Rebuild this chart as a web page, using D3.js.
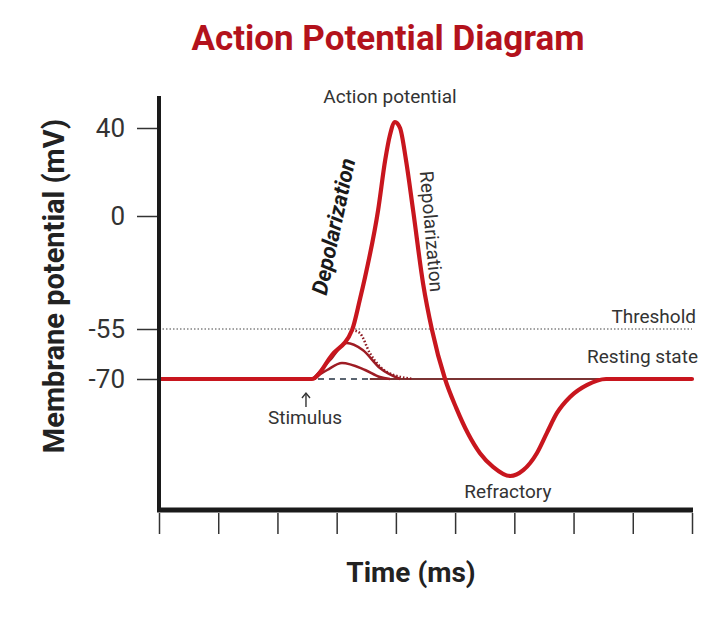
<!DOCTYPE html>
<html>
<head>
<meta charset="utf-8">
<script src="https://cdn.jsdelivr.net/npm/d3@7"></script>
<style>
  body { margin: 0; background: #fff; }
  text { font-family: Roboto, "Noto Sans", sans-serif; }
</style>
</head>
<body>
<div id="chart"></div>
<script>
// tick values
var yTicks = [40, 0, -55, -70];
var xTicks = [0, 1, 2, 3, 4, 5, 6, 7, 8, 9];

// main action potential trace (time in ms, voltage in mV)
var apTime = [0, 2.58, 2.92, 3.26, 3.39, 3.48, 3.70, 3.82, 3.90, 3.985, 4.07, 4.17, 4.29, 4.46, 4.61, 4.83,
              5.02, 5.22, 5.42, 5.64, 5.93, 6.15, 6.38, 6.55, 6.72, 6.94, 7.23, 7.55, 9];
var apVolt = [-70, -70, -62.8, -55.3, -40.9, -29.7, 2.7, 25.5, 36.8, 42.7, 40, 25.5, 2.7, -33, -55.3, -70,
              -76.0, -81.3, -85.3, -88.1, -90, -88.8, -85.3, -81.1, -77.0, -73.7, -71.2, -70, -70];

// sub-threshold responses
var smallTime = [2.60, 2.84, 3.09, 3.48, 3.73, 3.90];
var smallVolt = [-70, -67.3, -65.2, -67.3, -69.4, -70];
var medTime = [2.60, 2.89, 3.17, 3.44, 3.73, 4.07];
var medVolt = [-70, -64.3, -59.2, -61.3, -66.7, -70];
// failed spike at threshold (dotted)
var failTime = [3.26, 3.39, 3.56, 3.85, 4.29];
var failVolt = [-55.3, -56.2, -62.2, -67.9, -70];

var threshold = -55;
var resting = -70;
var stimTime = 2.6;
var dashEnd = 3.56;

var width = 720, height = 618;

var svg = d3.select("#chart").append("svg")
    .attr("width", width)
    .attr("height", height);

var x = d3.scaleLinear().domain([0, 9]).range([159, 692]);
// diagram-style (non uniform) voltage axis
var y = d3.scaleLinear().domain([40, 0, -55, -70, -90]).range([128, 216, 329, 379, 476]);

var line = d3.line()
    .x(d => x(d[0]))
    .y(d => y(d[1]))
    .curve(d3.curveMonotoneX);

function pairs(t, v) { return t.map((d, i) => [d, v[i]]); }

// title
svg.append("text")
    .attr("x", 388).attr("y", 50)
    .attr("text-anchor", "middle")
    .attr("fill", "#b3121c")
    .attr("font-size", 35)
    .attr("font-weight", 700)
    .text("Action Potential Diagram");

// threshold line
svg.append("line")
    .attr("x1", x(0)).attr("x2", x(9))
    .attr("y1", y(threshold)).attr("y2", y(threshold))
    .attr("stroke", "#444").attr("stroke-width", 1.2)
    .attr("stroke-dasharray", "1.5,2");

// resting line
svg.append("line")
    .attr("x1", x(0)).attr("x2", x(9))
    .attr("y1", y(resting)).attr("y2", y(resting))
    .attr("stroke", "#7a3434").attr("stroke-width", 2);

// dashed baseline under the bumps
svg.append("line")
    .attr("x1", x(stimTime) + 3).attr("x2", x(dashEnd))
    .attr("y1", y(resting)).attr("y2", y(resting))
    .attr("stroke", "#fff").attr("stroke-width", 3);
svg.append("line")
    .attr("x1", x(stimTime) + 5).attr("x2", x(dashEnd))
    .attr("y1", y(resting)).attr("y2", y(resting))
    .attr("stroke", "#5a6470").attr("stroke-width", 2)
    .attr("stroke-dasharray", "6,5");

// sub-threshold curves
svg.append("path").datum(pairs(smallTime, smallVolt))
    .attr("d", line).attr("fill", "none")
    .attr("stroke", "#9e1c24").attr("stroke-width", 2.5);
svg.append("path").datum(pairs(medTime, medVolt))
    .attr("d", line).attr("fill", "none")
    .attr("stroke", "#9e1c24").attr("stroke-width", 2.5);
svg.append("path").datum(pairs(failTime, failVolt))
    .attr("d", line).attr("fill", "none")
    .attr("stroke", "#8e1a22").attr("stroke-width", 2.5)
    .attr("stroke-dasharray", "1.5,2");

// main trace
svg.append("path").datum(pairs(apTime, apVolt))
    .attr("d", line).attr("fill", "none")
    .attr("stroke", "#c8161e").attr("stroke-width", 4.2)
    .attr("stroke-linejoin", "round").attr("stroke-linecap", "round");

// axes
var yAxis = svg.append("g")
    .attr("transform", "translate(159,0)")
    .call(d3.axisLeft(y).tickValues(yTicks).tickSize(22).tickPadding(12)
        .tickSizeOuter(0).tickFormat(d => String(d)));
yAxis.select(".domain").remove();
yAxis.selectAll(".tick line").attr("stroke", "#333").attr("stroke-width", 1.5);
yAxis.selectAll(".tick text")
    .attr("font-size", 26).attr("fill", "#333")
    .attr("font-family", "Roboto, sans-serif");

var xAxis = svg.append("g")
    .attr("transform", "translate(0,513)")
    .call(d3.axisBottom(x).tickValues(xTicks).tickSize(21).tickFormat("").tickSizeOuter(0));
xAxis.select(".domain").remove();
xAxis.selectAll(".tick line").attr("stroke", "#333").attr("stroke-width", 1.5);

svg.append("line")
    .attr("x1", 159).attr("x2", 159).attr("y1", 96).attr("y2", 512)
    .attr("stroke", "#1a1a1a").attr("stroke-width", 4);
svg.append("line")
    .attr("x1", 157).attr("x2", 693).attr("y1", 510).attr("y2", 510)
    .attr("stroke", "#1a1a1a").attr("stroke-width", 5);

// axis titles
svg.append("text")
    .attr("transform", "translate(64,286) rotate(-90)")
    .attr("text-anchor", "middle")
    .attr("font-size", 29).attr("font-weight", 700).attr("fill", "#222")
    .text("Membrane potential (mV)");
svg.append("text")
    .attr("x", 411).attr("y", 582)
    .attr("text-anchor", "middle")
    .attr("font-size", 28).attr("font-weight", 700).attr("fill", "#222")
    .text("Time (ms)");

// stimulus arrow
var ax = x(stimTime) - 7;
svg.append("line")
    .attr("x1", ax).attr("x2", ax).attr("y1", 407).attr("y2", 394)
    .attr("stroke", "#333").attr("stroke-width", 1.4);
svg.append("path")
    .attr("d", `M${ax - 4},${398} L${ax},${393} L${ax + 4},${398}`)
    .attr("fill", "none").attr("stroke", "#333").attr("stroke-width", 1.4);

// annotations
var lab = svg.append("g").attr("fill", "#333").attr("font-size", 19);
lab.append("text").attr("x", x(3.9)).attr("y", 103)
    .attr("text-anchor", "middle").text("Action potential");
lab.append("text").attr("x", 696).attr("y", 323)
    .attr("text-anchor", "end").text("Threshold");
lab.append("text").attr("x", 698).attr("y", 363)
    .attr("text-anchor", "end").text("Resting state");
lab.append("text").attr("x", x(5.89)).attr("y", 498)
    .attr("text-anchor", "middle").text("Refractory");
lab.append("text").attr("x", 305).attr("y", 424)
    .attr("text-anchor", "middle").text("Stimulus");
lab.append("text")
    .attr("transform", "translate(341,228) rotate(-78)")
    .attr("text-anchor", "middle")
    .attr("font-size", 22).attr("font-weight", 700).attr("font-style", "italic")
    .attr("fill", "#1a1a1a")
    .text("Depolarization");
lab.append("text")
    .attr("transform", "translate(425,232) rotate(85)")
    .attr("text-anchor", "middle")
    .text("Repolarization");
</script>
</body>
</html>
